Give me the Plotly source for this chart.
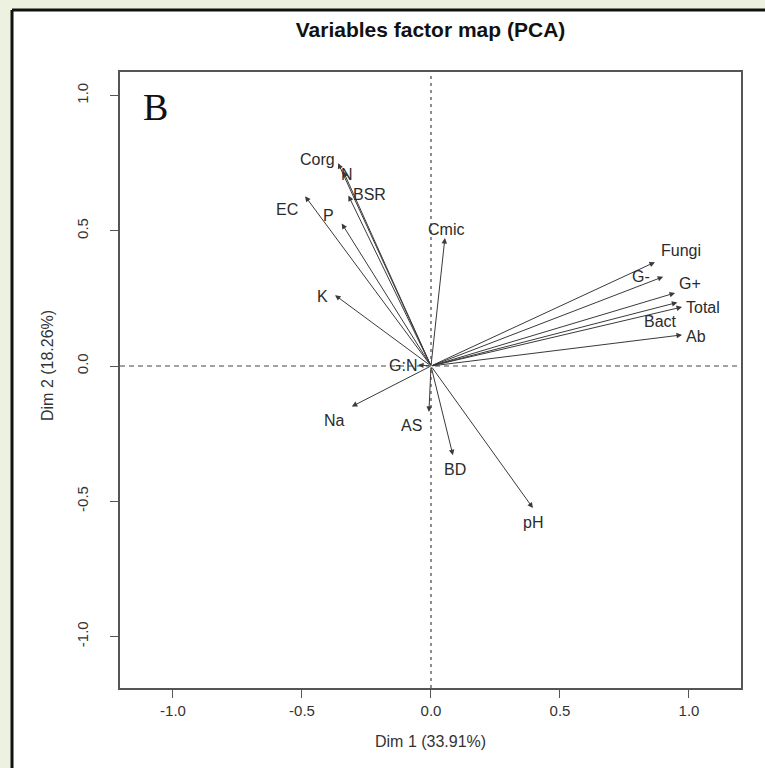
import plotly.graph_objects as go

# ---- data ----
variables = ["Corg", "N", "BSR", "EC", "P", "K", "Cmic", "Fungi", "G-", "G+",
             "Bact", "Total", "Ab", "G:N", "Na", "AS", "BD", "pH"]
dim1 = [-0.36, -0.34, -0.32, -0.488, -0.346, -0.372, 0.054, 0.868, 0.90, 0.946,
        0.955, 0.973, 0.973, -0.05, -0.307, -0.008, 0.085, 0.395]
dim2 = [0.75, 0.72, 0.63, 0.628, 0.527, 0.262, 0.473, 0.384, 0.33, 0.27,
        0.235, 0.218, 0.115, 0.004, -0.150, -0.17, -0.33, -0.525]
x_ticks = [-1.0, -0.5, 0.0, 0.5, 1.0]
y_ticks = [-1.0, -0.5, 0.0, 0.5, 1.0]
tick_text = ["-1.0", "-0.5", "0.0", "0.5", "1.0"]
title_text = "Variables factor map (PCA)"
xlab = "Dim 1 (33.91%)"
ylab = "Dim 2 (18.26%)"
panel_letter = "B"

# ---- label placement (pixel offsets from arrow tips) ----
label_offsets = {
    "Corg": (-21, 4), "N": (4, -3), "BSR": (21, 1), "EC": (-18, -13),
    "P": (-13, 8), "K": (-13, -1), "Cmic": (1, 9), "Fungi": (26, 12),
    "G-": (-22, 0), "G+": (15, 9), "Bact": (-17, -19), "Total": (21, 0),
    "Ab": (14, -2), "G:N": (-15, -1), "Na": (-17, -14), "AS": (-17, -14),
    "BD": (2, -14), "pH": (0, -14),
}

W, H = 765, 768
L, R, T, B = 120, 24, 72, 80
pw, ph = W - L - R, H - T - B


def px2paper_x(px):
    return (px - L) / pw


def px2paper_y(py):
    return (H - B - py) / ph


fig = go.Figure()
fig.add_trace(go.Scatter(x=[0], y=[0], mode="markers",
                         marker=dict(size=1, color="rgba(0,0,0,0)"),
                         showlegend=False, hoverinfo="skip"))

annotations = []
arrow_col = "#3a3a3a"
for name, x, y in zip(variables, dim1, dim2):
    annotations.append(dict(
        x=x, y=y, ax=0, ay=0, xref="x", yref="y", axref="x", ayref="y",
        showarrow=True, arrowhead=2, arrowsize=1.1, arrowwidth=1,
        arrowcolor=arrow_col, text=""))
    dx, dy = label_offsets[name]
    annotations.append(dict(
        x=x, y=y, xref="x", yref="y", showarrow=False, text=name,
        xshift=dx, yshift=dy, xanchor="center", yanchor="middle",
        font=dict(family="Liberation Sans, Arial", size=16, color="#2b2b2b")))

# panel letter
annotations.append(dict(
    x=px2paper_x(155), y=px2paper_y(107), xref="paper", yref="paper",
    showarrow=False, text=panel_letter, xanchor="center", yanchor="middle",
    font=dict(family="Liberation Serif, Times New Roman", size=38, color="#111")))
# axis titles
annotations.append(dict(
    x=0.5, y=px2paper_y(742), xref="paper", yref="paper", showarrow=False,
    text=xlab, xanchor="center", yanchor="middle",
    font=dict(family="Liberation Sans", size=16, color="#333")))
annotations.append(dict(
    x=px2paper_x(47), y=px2paper_y(366), xref="paper", yref="paper",
    showarrow=False, text=ylab, textangle=-90, xanchor="center", yanchor="middle",
    font=dict(family="Liberation Sans", size=16, color="#333")))

shapes = [
    # white panel
    dict(type="rect", xref="paper", yref="paper", layer="below",
         x0=px2paper_x(12), x1=px2paper_x(W + 5), y0=px2paper_y(H + 5), y1=px2paper_y(10),
         fillcolor="white", line=dict(width=0)),
    # panel borders (left & top)
    dict(type="line", xref="paper", yref="paper",
         x0=px2paper_x(12), x1=px2paper_x(12), y0=px2paper_y(H + 5), y1=px2paper_y(10),
         line=dict(color="#111", width=3)),
    dict(type="line", xref="paper", yref="paper",
         x0=px2paper_x(12), x1=px2paper_x(W + 5), y0=px2paper_y(10), y1=px2paper_y(10),
         line=dict(color="#111", width=3)),
    # dashed reference lines
    dict(type="line", xref="x", yref="y domain", x0=0, x1=0, y0=0, y1=1,
         line=dict(color="#444", width=1.2, dash="3px,4px")),
    dict(type="line", xref="x domain", yref="y", x0=0, x1=1, y0=0, y1=0,
         line=dict(color="#444", width=1.2, dash="5px,4px")),
]

axis_common = dict(showgrid=False, zeroline=False, showline=True, mirror=True,
                   linecolor="#555", linewidth=1.5, ticks="outside", ticklen=8,
                   tickcolor="#555", tickwidth=1.2,
                   tickfont=dict(family="Liberation Sans Narrow, Liberation Sans",
                                 size=15, color="#333"))

fig.update_layout(
    width=W, height=H,
    margin=dict(l=L, r=R, t=T, b=B, pad=0),
    paper_bgcolor="#ecf2df",
    plot_bgcolor="white",
    title=dict(text="<b>" + title_text + "</b>", xref="paper", x=0.5,
               yref="container", y=1 - 30 / H, xanchor="center", yanchor="middle",
               font=dict(family="Liberation Sans Narrow, Liberation Sans", size=21, color="#111")),
    xaxis=dict(range=[-1.2054, 1.2016], tickvals=x_ticks, ticktext=tick_text,
               **axis_common),
    yaxis=dict(range=[-1.1904, 1.0869], tickvals=y_ticks, ticktext=tick_text,
               tickangle=-90, ticklabelstandoff=16, **axis_common),
    annotations=annotations,
    shapes=shapes,
    showlegend=False,
)

fig.write_html("out.html", config={"displayModeBar": False},
               post_script="document.body.style.margin='0';")
